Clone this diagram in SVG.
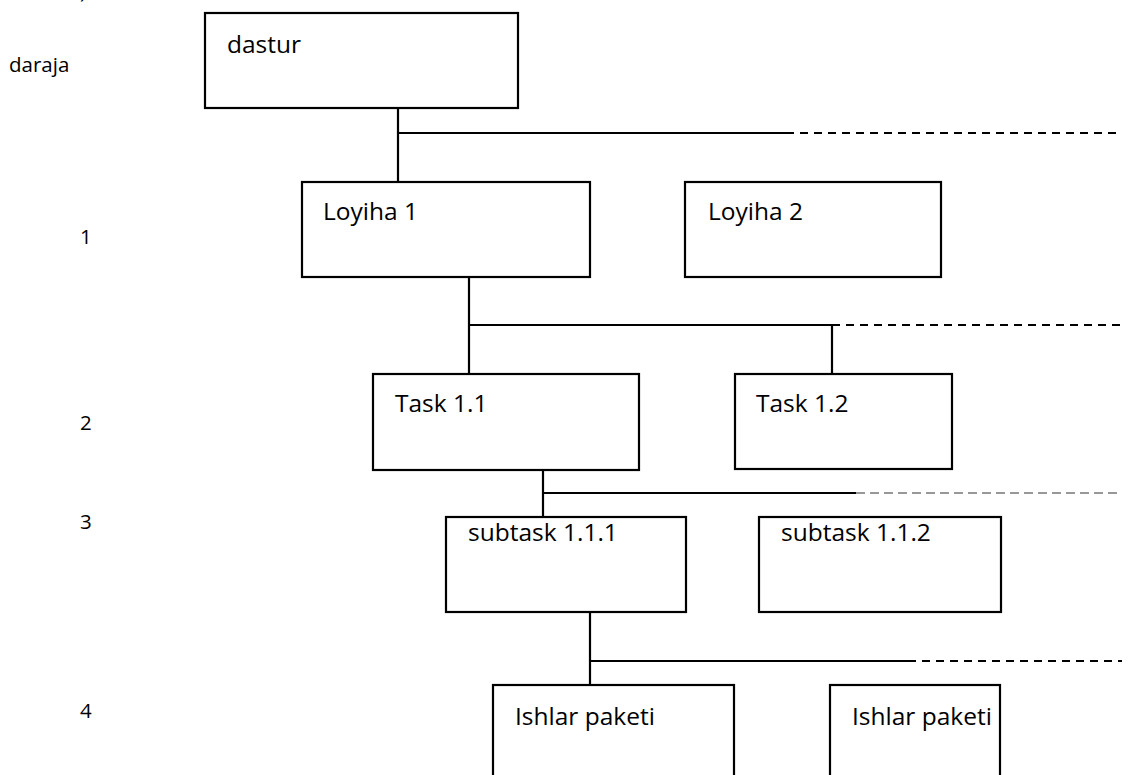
<svg xmlns="http://www.w3.org/2000/svg" width="1129" height="775" viewBox="0 0 1129 775">
  <style>
    .box { fill: #ffffff; stroke: #000000; stroke-width: 2.2; }
    .lbl { font-family: "Open Sans", "Liberation Sans", sans-serif; font-size: 24.5px; fill: #000000; }
    .side { font-family: "Open Sans", "Liberation Sans", sans-serif; font-size: 20.5px; fill: #000000; }
    .wire { stroke: #000000; stroke-width: 2.2; fill: none; }
    .dash { stroke: #000000; stroke-width: 2.2; fill: none; stroke-dasharray: 8 6; }
    .dash-thin { stroke: #333333; stroke-width: 1.2; fill: none; stroke-dasharray: 9 5; }
  </style>
  <rect width="1129" height="775" fill="#ffffff"/>

  <!-- level captions on the left -->
  <g id="levels">
    <text class="side" x="80" y="-2">)</text>
    <text class="side" x="9" y="72">daraja</text>
    <text class="side" x="80" y="244">1</text>
    <text class="side" x="80" y="430">2</text>
    <text class="side" x="80" y="529">3</text>
    <text class="side" x="80" y="718">4</text>
  </g>

  <!-- connectors -->
  <g id="connectors">
    <!-- dastur -> level 1 -->
    <path class="wire" d="M398 108 V182 M398 133 H786"/>
    <path class="dash" d="M786 133 H1122"/>
    <!-- Loyiha 1 -> level 2 -->
    <path class="wire" d="M469 277 V374 M469 325 H832 M832 325 V374"/>
    <path class="dash" d="M832 325 H1122"/>
    <!-- Task 1.1 -> level 3 -->
    <path class="wire" d="M543 470 V517 M543 493 H856"/>
    <path class="dash-thin" d="M856 493 H1120"/>
    <!-- subtask 1.1.1 -> level 4 -->
    <path class="wire" d="M590 612 V685 M590 661 H908"/>
    <path class="dash" d="M908 661 H1122"/>
  </g>

  <g id="dastur">
    <rect class="box" x="205" y="13" width="313" height="95"/>
    <text class="lbl" x="227" y="53">dastur</text>
  </g>

  <g id="loyiha1">
    <rect class="box" x="302" y="182" width="288" height="95"/>
    <text class="lbl" x="323" y="220">Loyiha 1</text>
  </g>
  <g id="loyiha2">
    <rect class="box" x="685" y="182" width="256" height="95"/>
    <text class="lbl" x="708" y="220">Loyiha 2</text>
  </g>

  <g id="task11">
    <rect class="box" x="373" y="374" width="266" height="96"/>
    <text class="lbl" x="395" y="412">Task 1.1</text>
  </g>
  <g id="task12">
    <rect class="box" x="735" y="374" width="217" height="95"/>
    <text class="lbl" x="756" y="412">Task 1.2</text>
  </g>

  <g id="subtask111">
    <rect class="box" x="446" y="517" width="240" height="95"/>
    <text class="lbl" x="468" y="541">subtask 1.1.1</text>
  </g>
  <g id="subtask112">
    <rect class="box" x="759" y="517" width="242" height="95"/>
    <text class="lbl" x="781" y="541">subtask 1.1.2</text>
  </g>

  <g id="paket1">
    <rect class="box" x="493" y="685" width="241" height="120"/>
    <text class="lbl" x="515" y="725">Ishlar paketi</text>
  </g>
  <g id="paket2">
    <rect class="box" x="830" y="685" width="170" height="120"/>
    <text class="lbl" x="852" y="725">Ishlar paketi</text>
  </g>
</svg>
